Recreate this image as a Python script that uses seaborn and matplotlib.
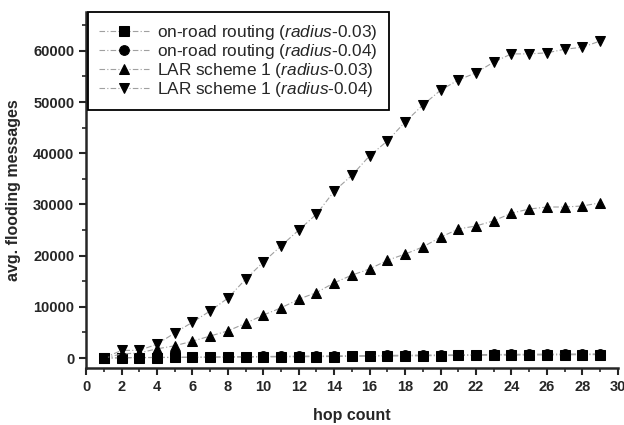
import matplotlib
matplotlib.use("Agg")
import matplotlib.pyplot as plt
import seaborn as sns
import pandas as pd
from matplotlib.ticker import MultipleLocator

hops = list(range(1, 30))
onroad_003 = [0, 50, 80, 100, 120, 140, 160, 180, 200, 220, 240, 260, 280, 300, 330,
              360, 390, 420, 450, 480, 510, 540, 560, 580, 600, 620, 640, 660, 680]
onroad_004 = [0, 60, 100, 130, 160, 190, 220, 250, 280, 310, 340, 370, 400, 430, 460,
              490, 520, 550, 580, 610, 640, 670, 700, 720, 740, 760, 780, 800, 820]
lar_003 = [0, 800, 1000, 1800, 2400, 3300, 4300, 5300, 6800, 8400, 9800, 11500, 12800,
           14700, 16200, 17400, 19100, 20300, 21700, 23600, 25200, 25800, 26800, 28300,
           29100, 29500, 29500, 29700, 30300]
lar_004 = [0, 1500, 1500, 2700, 4900, 7000, 9200, 11700, 15400, 18750, 21900, 25000,
           28100, 32600, 35700, 39500, 42400, 46100, 49400, 52300, 54300, 55700, 57800,
           59400, 59400, 59600, 60300, 60700, 61900]

labels = [r"on-road routing ($\it{radius}$-0.03)",
          r"on-road routing ($\it{radius}$-0.04)",
          r"LAR scheme 1 ($\it{radius}$-0.03)",
          r"LAR scheme 1 ($\it{radius}$-0.04)"]
series = [onroad_003, onroad_004, lar_003, lar_004]
markers = ["s", "o", "^", "v"]
msizes = [6.5, 7, 6.5, 7]

sns.set_style("ticks")
plt.rcParams["font.family"] = ["Liberation Sans", "DejaVu Sans"]
plt.rcParams["mathtext.fontset"] = "custom"
plt.rcParams["mathtext.it"] = "Liberation Sans:italic"
plt.rcParams["mathtext.rm"] = "Liberation Sans"

fig = plt.figure(figsize=(6.24, 4.25), dpi=100)
ax = fig.add_axes([0.138, 0.134, 0.852, 0.838])

for lab, vals, m, ms in zip(labels, series, markers, msizes):
    df = pd.DataFrame({"hop": hops, "val": vals})
    sns.lineplot(data=df, x="hop", y="val", ax=ax, color="#a0a0a0", linewidth=0.8,
                 linestyle=(0, (5, 2, 1, 2)), marker=m, markersize=ms,
                 markerfacecolor="black", markeredgecolor="black", label=lab)

ax.set_xlim(0, 30)
ax.set_ylim(-1950, 67600)
ax.xaxis.set_major_locator(MultipleLocator(2))
ax.xaxis.set_minor_locator(MultipleLocator(1))
ax.yaxis.set_major_locator(MultipleLocator(10000))
ax.yaxis.set_minor_locator(MultipleLocator(5000))
sns.despine(ax=ax)
for s in ["left", "bottom"]:
    ax.spines[s].set_linewidth(1.8)
ax.tick_params(which="major", length=5, width=1.5, labelsize=10.5)
ax.tick_params(which="minor", length=3, width=1.2)
for t in ax.get_xticklabels() + ax.get_yticklabels():
    t.set_fontweight("bold")

ax.set_xlabel("hop count", fontsize=11.5, fontweight="bold", labelpad=10)
ax.set_ylabel("avg. flooding messages", fontsize=11.5, fontweight="bold", labelpad=9)

leg = ax.legend(loc="upper left", bbox_to_anchor=(0.004, 1.0), borderaxespad=0,
                fancybox=False, edgecolor="black", framealpha=1, fontsize=12.4,
                handlelength=2.9, borderpad=0.65, labelspacing=0.0, handletextpad=0.45)
leg.get_frame().set_linewidth(1.3)

fig.savefig("out.png", dpi=100)
